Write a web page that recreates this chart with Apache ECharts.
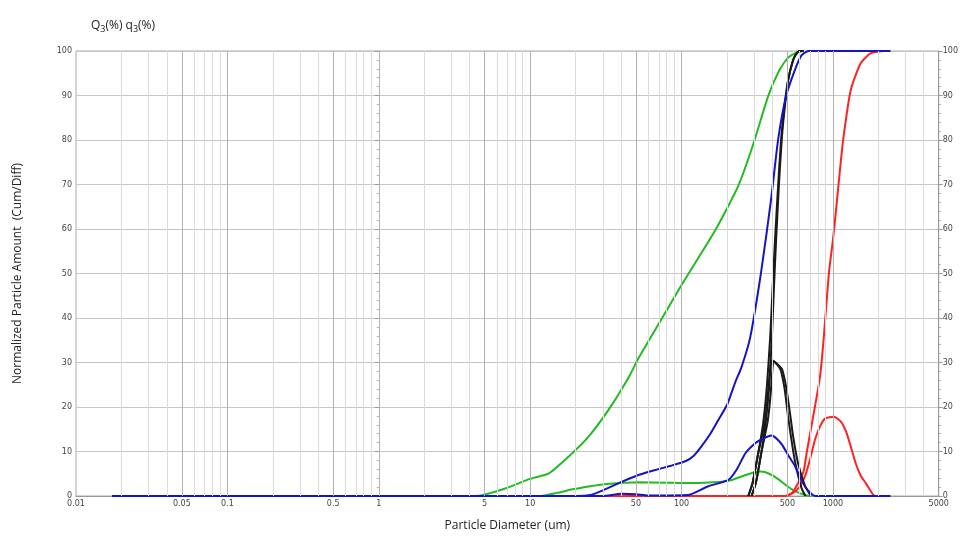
<!doctype html>
<html>
<head>
	<meta charset="utf-8">
	<title>Particle size distribution</title>
	<script src="https://cdn.jsdelivr.net/npm/echarts@6/dist/echarts.min.js"></script>
	<style>
		html, body { margin: 0; padding: 0; background: #fff; }
		#main { width: 961px; height: 537px; }
	</style>
</head>
<body>
	<div id="main"></div>
	<script>
		// tick labels on the diameter axis (um)
		var xTicks = [0.01, 0.05, 0.1, 0.5, 1, 5, 10, 50, 100, 500, 1000, 5000];
		var xTickText = ['0.01', '0.05', '0.1', '0.5', '1', '5', '10', '50', '100', '500', '1000', '5000'];
		// vertical grid: 2..9 x each decade
		var gridMult = [1, 2, 3, 4, 5, 6, 7, 8, 9];
		var gridDecades = [0.01, 0.1, 1, 10, 100, 1000];

		// [diameter um, %]
		var greenCum = [[0.0173, 0], [3.8, 0], [4.8, 0.2], [7, 1.8], [9.85, 3.8], [13.3, 5.1], [18, 8.9], [24.4, 13.4], [33, 19.4], [44.8, 26.7], [52, 31], [63.5, 36], [100, 47.4], [167, 59.7], [237, 69.7], [298, 79.1], [373, 89.8], [440, 95.5], [506, 98.5], [580, 99.7], [640, 100]];
		var greenDiff = [[0.0173, 0], [11.5, 0], [15, 0.7], [19, 1.5], [25, 2.2], [32, 2.7], [52, 3.1], [80, 3.0], [110, 2.9], [160, 3.1], [204, 3.4], [260, 4.6], [300, 5.3], [336, 5.5], [380, 5.0], [435, 3.8], [500, 2.2], [562, 1.1], [640, 0.3], [700, 0]];
		var blueCum = [[0.0173, 0], [20, 0], [25.6, 0.3], [30, 1.2], [38.5, 2.9], [50, 4.5], [63.5, 5.6], [85, 6.8], [106, 7.8], [120, 9], [135, 11.1], [155, 14], [175, 17.1], [200, 20.5], [226, 25.5], [248, 28.8], [284, 35.6], [336, 50.5], [391, 66.8], [435, 80.2], [490, 89.8], [562, 95.8], [620, 99], [690, 100], [2400, 100]];
		var blueDiff = [[0.0173, 0], [30, 0], [40, 0.5], [50, 0.4], [60, 0.1], [110, 0.2], [150, 2.2], [204, 3.6], [232, 6], [264, 9.6], [300, 11.6], [336, 12.7], [394, 13.6], [455, 11.8], [510, 9], [562, 6.7], [615, 3.8], [665, 1.8], [720, 0.5], [762, 0], [2400, 0]];
		var blackCumA = [[276, 0], [295, 3], [321, 9.6], [345, 16], [365, 24], [385, 35.6], [400, 47], [415, 57.9], [435, 70], [455, 80.2], [480, 88], [506, 93.5], [540, 97.5], [562, 99], [600, 100], [640, 100]];
		var blackCumB = [[290, 0], [310, 3], [336, 9.6], [358, 16], [378, 24], [395, 35.6], [408, 47], [422, 58], [440, 70], [460, 80.5], [485, 88.5], [510, 94], [545, 97.8], [570, 99.2], [610, 100], [640, 100]];
		var blackDiffA = [[276, 0], [295, 3], [321, 9.6], [340, 13.5], [357, 17.1], [372, 23], [385, 28.3], [395, 30.5], [415, 30], [440, 29], [455, 28], [480, 24], [505, 18], [530, 13], [560, 8], [590, 4.5], [625, 1.5], [660, 0]];
		var blackDiffB = [[290, 0], [310, 3], [336, 9.6], [355, 13.5], [372, 17.1], [388, 23], [398, 28.3], [405, 30.3], [425, 29.8], [448, 29], [462, 28.5], [491, 24.5], [521, 18.5], [546, 13.4], [589, 7.3], [655, 2.2], [716, 0]];
		var redCum = [[24.4, 0], [480, 0], [540, 0.8], [589, 2.9], [640, 5.5], [670, 9.6], [740, 17.8], [821, 26.7], [870, 35.6], [940, 50], [1000, 57.5], [1050, 64.5], [1100, 71.5], [1170, 80.2], [1313, 91.3], [1528, 97.3], [1778, 99.5], [2170, 100], [2230, 100]];
		var redDiff = [[24.4, 0], [480, 0], [540, 0.6], [600, 2], [655, 4.5], [706, 8.2], [762, 12.7], [821, 15.6], [886, 17.4], [1016, 17.8], [1129, 16.7], [1220, 14.5], [1294, 11.8], [1416, 7.3], [1530, 4.5], [1648, 2.9], [1833, 0.4], [1900, 0]];

		var lg = function (v) { return Math.log10(v); };
		var toXY = function (arr) { return arr.map(function (p) { return [lg(p[0]), p[1]]; }); };

		// grid lines as mark lines on the x scale
		var vLines = [];
		gridDecades.forEach(function (d) {
			gridMult.forEach(function (m) {
				var v = d * m;
				if (v <= 0.01 || v >= 5000) return;
				var major = (m === 1 || m === 5);
				vLines.push({ xAxis: lg(v), lineStyle: { color: major ? '#b2b2b2' : '#dcdcdc', width: 1, type: 'solid' } });
			});
		});

		function line(name, arr, color) {
			return {
				name: name, type: 'line', data: toXY(arr), showSymbol: false, smooth: 0.2,
				lineStyle: { color: color, width: 2 }, itemStyle: { color: color }, z: 3, animation: false
			};
		}

		var axisText = { fontSize: 8, color: '#444', fontFamily: 'DejaVu Sans' };

		var chart = echarts.init(document.getElementById('main'));
		chart.setOption({
			animation: false,
			title: {
				left: 86, top: 12,
				text: '{n|Q}{s|3}{n|(%) q}{s|3}{n|(%)}',
				textStyle: {
					fontWeight: 'normal',
					rich: {
						n: { fontSize: 12, color: '#222', fontFamily: 'Open Sans', fontWeight: 'normal', lineHeight: 18 },
						s: { fontSize: 9, color: '#222', fontFamily: 'Open Sans', fontWeight: 'normal', padding: [6, 0, 0, 0], lineHeight: 18 }
					}
				}
			},
			grid: { left: 76, right: 20, top: 51, bottom: 37, show: true, borderColor: '#a8a8a8', borderWidth: 1 },
			xAxis: {
				type: 'value', min: -2, max: lg(5000),
				name: 'Particle Diameter (um)', nameLocation: 'middle', nameGap: 24,
				nameTextStyle: { fontSize: 12, color: '#222', fontFamily: 'Open Sans' },
				axisLine: { show: true, lineStyle: { color: '#999' } },
				axisTick: { show: false },
				splitLine: { show: false },
				axisLabel: Object.assign({
					margin: 4, hideOverlap: false, showMinLabel: true, showMaxLabel: true,
					customValues: xTicks.map(lg),
					formatter: function (v) {
						for (var i = 0; i < xTicks.length; i++) {
							if (Math.abs(lg(xTicks[i]) - v) < 1e-6) return xTickText[i];
						}
						return '';
					}
				}, axisText)
			},
			yAxis: [{
				type: 'value', min: 0, max: 100, interval: 10, position: 'left',
				name: 'Normalized Particle Amount  (Cum/Diff)', nameLocation: 'middle', nameGap: 52,
				nameTextStyle: { fontSize: 12, color: '#222', fontFamily: 'Open Sans' },
				axisLine: { show: true, lineStyle: { color: '#999' } },
				axisTick: { show: true, length: 4, lineStyle: { color: '#999' } },
				minorTick: { show: true, splitNumber: 5, length: 2, lineStyle: { color: '#aaa' } },
				splitLine: { show: true, lineStyle: { color: '#c6c6c6', width: 1 } },
				axisLabel: Object.assign({ margin: 4 }, axisText)
			}, {
				type: 'value', min: 0, max: 100, interval: 10, position: 'right',
				axisLine: { show: true, lineStyle: { color: '#999' } },
				axisTick: { show: true, length: 4, lineStyle: { color: '#999' } },
				minorTick: { show: true, splitNumber: 5, length: 2, lineStyle: { color: '#aaa' } },
				splitLine: { show: false },
				axisLabel: Object.assign({ margin: 4 }, axisText)
			}],
			series: [
				{
					name: 'grid', type: 'line', data: [], z: 1, silent: true, animation: false,
					markLine: { silent: true, symbol: ['none', 'none'], label: { show: false }, animation: false, data: vLines }
				},
				line('green cum', greenCum, '#22bb22'),
				line('green diff', greenDiff, '#22bb22'),
				line('red cum', redCum, '#ff2222'),
				line('red diff', redDiff, '#ff2222'),
				line('black cum A', blackCumA, '#1a1a1a'),
				line('black cum B', blackCumB, '#1a1a1a'),
				line('black diff A', blackDiffA, '#1a1a1a'),
				line('black diff B', blackDiffB, '#1a1a1a'),
				line('blue cum', blueCum, '#1414c4'),
				line('blue diff', blueDiff, '#1414c4')
			]
		});
	</script>
</body>
</html>
